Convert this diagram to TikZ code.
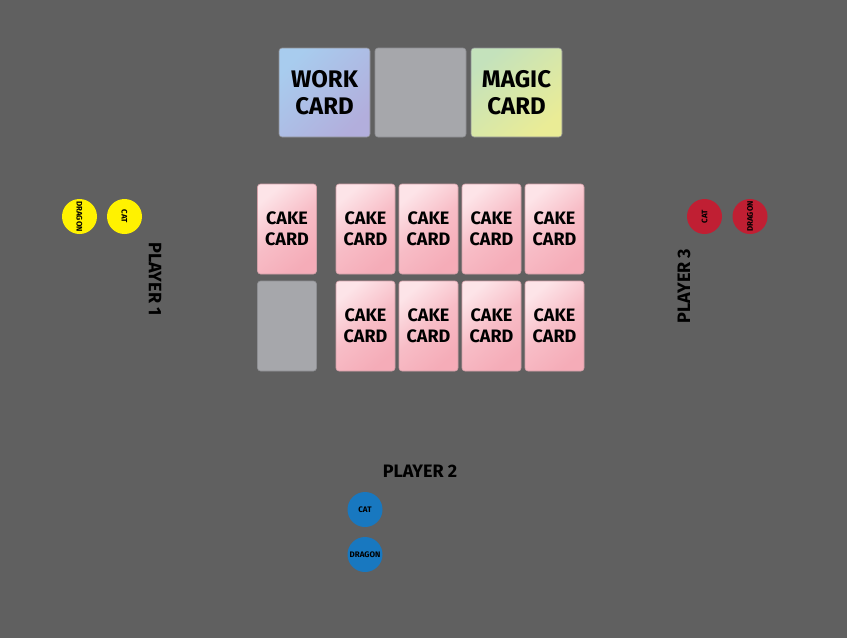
\documentclass[tikz,border=0pt]{standalone}
\usepackage{fontspec}
\setmainfont{Fira Sans}
\usetikzlibrary{shadings}
\definecolor{bg}{HTML}{606060}
\definecolor{slot}{HTML}{A6A7AB}
\definecolor{slotedge}{HTML}{8E8F93}
\definecolor{workA}{HTML}{A8CCEE}
\definecolor{workB}{HTML}{B2AEDC}
\definecolor{magicA}{HTML}{C4E2BC}
\definecolor{magicB}{HTML}{EAEC96}
\definecolor{cakeA}{HTML}{FDE4E8}
\definecolor{cakeB}{HTML}{F5ACB8}
\definecolor{pyellow}{HTML}{FFF200}
\definecolor{pred}{HTML}{C01F33}
\definecolor{pblue}{HTML}{1878C0}
\tikzset{
  card/.style={rounded corners=3pt, draw=slotedge, line width=0.6pt, inner sep=0pt, align=center, font=\bfseries},
  bigcard/.style={card, minimum width=91pt, minimum height=89pt, font=\bfseries\fontsize{24}{27}\selectfont},
  slotbig/.style={bigcard, fill=slot},
  workcard/.style={bigcard, top color=workA, bottom color=workB, shading angle=45},
  magiccard/.style={bigcard, top color=magicA, bottom color=magicB, shading angle=40},
  cakecard/.style={card, minimum width=59pt, minimum height=90pt, font=\bfseries\fontsize{18}{21}\selectfont, draw=cakeB!70!gray, top color=cakeA, bottom color=cakeB, middle color=cakeB!70!cakeA, shading angle=40},
  slotsmall/.style={card, minimum width=59pt, minimum height=90pt, fill=slot},
  token/.style={circle, minimum size=35pt, inner sep=0pt, font=\bfseries\fontsize{8}{9}\selectfont},
  ptext/.style={font=\bfseries\fontsize{18}{20}\selectfont}
}
\begin{document}
\begin{tikzpicture}[x=1pt,y=-1pt]
\fill[bg] (0,0) rectangle (847,638);
\useasboundingbox (0,0) rectangle (847,638);
% top row
\node[workcard] (work) at (324.5,92.5) {WORK\\CARD};
\node[slotbig] (mid) at (420.5,92.5) {};
\node[magiccard] (magic) at (516.5,92.5) {MAGIC\\CARD};
% cake cards
\node[cakecard] (c0) at (287,229) {CAKE\\CARD};
\node[slotsmall] (s0) at (287,326) {};
\node[cakecard] (c1) at (365.5,229) {CAKE\\CARD};
\node[cakecard] (c2) at (428.5,229) {CAKE\\CARD};
\node[cakecard] (c3) at (491.5,229) {CAKE\\CARD};
\node[cakecard] (c4) at (554.5,229) {CAKE\\CARD};
\node[cakecard] (d1) at (365.5,326) {CAKE\\CARD};
\node[cakecard] (d2) at (428.5,326) {CAKE\\CARD};
\node[cakecard] (d3) at (491.5,326) {CAKE\\CARD};
\node[cakecard] (d4) at (554.5,326) {CAKE\\CARD};
% player 1
\node[token, fill=pyellow] (y1) at (79.5,216.5) {\rotatebox{-90}{DRAGON}};
\node[token, fill=pyellow] (y2) at (124.5,216.5) {\rotatebox{-90}{CAT}};
\node[ptext, rotate=-90] (p1) at (155,279) {PLAYER 1};
% player 3
\node[token, fill=pred] (r1) at (704.5,216.5) {\rotatebox{90}{CAT}};
\node[token, fill=pred] (r2) at (750,216.5) {\rotatebox{90}{DRAGON}};
\node[ptext, rotate=90] (p3) at (684,286) {PLAYER 3};
% player 2
\node[ptext] (p2) at (420,471) {PLAYER 2};
\node[token, fill=pblue] (b1) at (365,509.5) {CAT};
\node[token, fill=pblue] (b2) at (365,554.5) {DRAGON};
\end{tikzpicture}
\end{document}
